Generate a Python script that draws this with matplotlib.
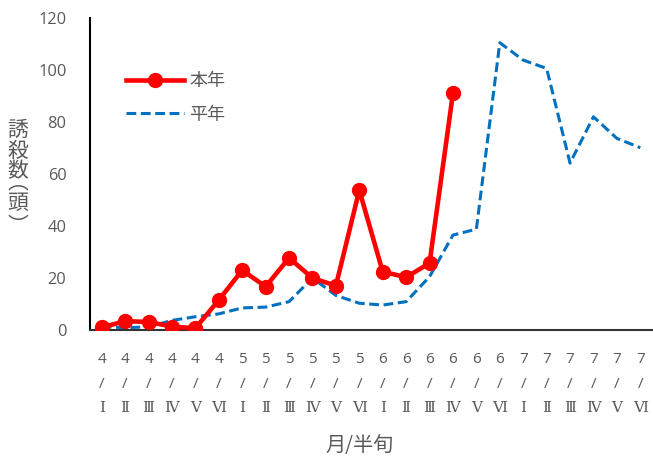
import matplotlib
matplotlib.use("Agg")
import matplotlib.pyplot as plt

plt.rcParams['font.family'] = ['Open Sans', 'DejaVu Serif', 'Noto Sans CJK JP']

months = ["4"] * 6 + ["5"] * 6 + ["6"] * 6 + ["7"] * 6
halves = ["Ⅰ", "Ⅱ", "Ⅲ", "Ⅳ", "Ⅴ", "Ⅵ"] * 4
this_year = [1.0, 3.4, 3.1, 1.3, 0.7, 11.5, 23.0, 16.7, 27.7, 20.0, 17.0, 53.8,
             22.4, 20.3, 25.7, 91.1]
normal_year = [1.3, 0.9, 1.2, 3.7, 5.1, 6.2, 8.5, 8.8, 10.9, 20.0, 13.3, 10.3,
               9.6, 10.9, 20.5, 36.5, 38.8, 110.5, 103.8, 100.6, 64.2, 82.0, 73.7, 70.1]

tick_color = "#595959"
W, H = 653, 459

fig = plt.figure(figsize=(W / 100, H / 100), dpi=100)
ax = fig.add_axes([90 / W, 1 - 330 / H, 562 / W, 312 / H])

x_all = list(range(len(normal_year)))
ax.plot(range(len(this_year)), this_year, color="#FF0000", lw=3.3, marker="o",
        markersize=10, label="本年", zorder=3)
ax.plot(x_all, normal_year, color="#0070C0", lw=2.2, ls=(0, (3.2, 1.5)),
        label="平年", zorder=2)

ax.set_xlim(-0.5, len(normal_year) - 0.5)
ax.set_ylim(0, 120)
ax.set_yticks(range(0, 121, 20))
ax.set_xticks(x_all)
ax.set_xticklabels([f"{m}\n/\n{h}" for m, h in zip(months, halves)],
                   fontsize=11, color=tick_color, linespacing=1.85)
ax.tick_params(axis="both", length=0)
ax.tick_params(axis="y", labelsize=11.8, labelcolor=tick_color, pad=17)
ax.tick_params(axis="x", pad=16)

for s in ["top", "right"]:
    ax.spines[s].set_visible(False)
ax.spines["left"].set_color("#000000")
ax.spines["left"].set_linewidth(1.5)
ax.spines["bottom"].set_color("#333333")
ax.spines["bottom"].set_linewidth(1.5)

# x-axis title
fig.text(360 / W, 1 - 446 / H, "月/半旬", fontsize=14.5, color=tick_color,
         ha="center", va="center", family=["Noto Sans CJK JP"])

# vertical y-axis title, one character at a time
ylabel_chars = ["誘", "殺", "数", "︵", "頭", "︶"]
ylabel_ys = [130, 151, 171, 183, 203, 226]
for ch, yp in zip(ylabel_chars, ylabel_ys):
    fig.text(18 / W, 1 - yp / H, ch, fontsize=15, color=tick_color,
             ha="center", va="center", family=["Noto Sans CJK JP"])

leg = ax.legend(loc="upper left", bbox_to_anchor=(0.035, 0.878), frameon=False,
                prop={"family": ["Noto Sans CJK JP"], "size": 13},
                handlelength=3.2, labelspacing=0.85, handletextpad=0.3)
for t in leg.get_texts():
    t.set_color(tick_color)

fig.savefig("out.png", dpi=100)
